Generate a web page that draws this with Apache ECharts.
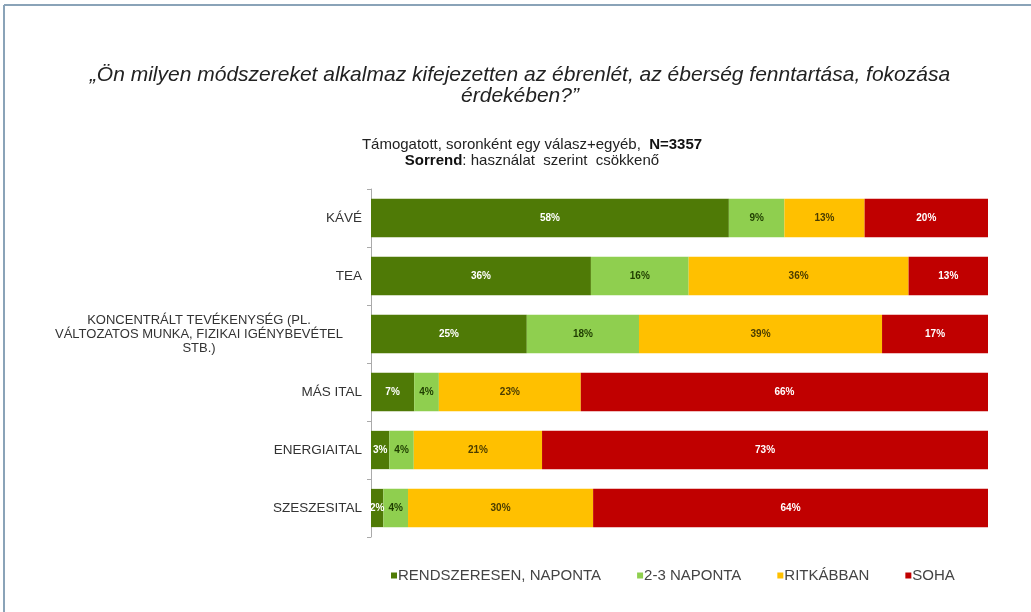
<!DOCTYPE html>
<html>
<head>
<meta charset="utf-8">
<script src="https://cdn.jsdelivr.net/npm/echarts@6/dist/echarts.min.js"></script>
<style>
  html, body { margin: 0; padding: 0; background: #fff; }
  #chart { width: 1031px; height: 612px; }
</style>
</head>
<body>
<div id="chart"></div>
<script>
// kategóriák (fentről lefelé)
const categories = [
  "KÁVÉ",
  "TEA",
  "KONCENTRÁLT TEVÉKENYSÉG (PL.\nVÁLTOZATOS MUNKA, FIZIKAI IGÉNYBEVÉTEL\nSTB.)",
  "MÁS ITAL",
  "ENERGIAITAL",
  "SZESZESITAL"
];
const seriesNames = ["RENDSZERESEN, NAPONTA", "2-3 NAPONTA", "RITKÁBBAN", "SOHA"];
const naponta = [58, 36, 25, 7, 3, 2];
const haromNaponta = [9, 16, 18, 4, 4, 4];
const ritkabban = [13, 36, 39, 23, 21, 30];
const soha = [20, 13, 17, 66, 73, 64];
const colors = ["#4f7a06", "#8fcf4f", "#ffc000", "#c00000"];
const labelColors = ["#ffffff", "#1f3d00", "#4a3c00", "#ffffff"];

const FONT = "Liberation Sans, Arial, sans-serif";
const allValues = [naponta, haromNaponta, ritkabban, soha];
// 100%-os halmozás: soronként normalizálva, a felirat az eredeti érték
const rowSums = categories.map((c, i) => allValues.reduce((s, arr) => s + arr[i], 0));

const chart = echarts.init(document.getElementById("chart"));

const series = allValues.map((arr, k) => ({
  name: seriesNames[k],
  type: "bar",
  stack: "total",
  barCategoryGap: "34%",
  itemStyle: { color: colors[k] },
  label: {
    show: true,
    position: "inside",
    color: labelColors[k],
    fontSize: 10,
    fontWeight: "bold",
    fontFamily: FONT,
    formatter: p => p.data.raw + "%"
  },
  data: arr.map((v, i) => ({ value: v / rowSums[i] * 100, raw: v }))
}));

const option = {
  animation: false,
  backgroundColor: "#ffffff",
  title: [
    {
      text: "„Ön milyen módszereket alkalmaz kifejezetten az ébrenlét, az éberség fenntartása, fokozása\nérdekében?”",
      left: 515,
      top: 60,
      textAlign: "center",
      textStyle: {
        fontFamily: FONT,
        fontStyle: "italic",
        fontWeight: "normal",
        fontSize: 21,
        lineHeight: 21,
        color: "#222"
      }
    },
    {
      text: "{n|Támogatott, soronként egy válasz+egyéb,  }{b|N=3357}\n{b|Sorrend}{n|: használat  szerint  csökkenő}",
      left: 527,
      top: 132,
      textAlign: "center",
      textStyle: {
        fontWeight: "normal",
        rich: {
          n: { fontFamily: FONT, fontSize: 15, fontWeight: "normal", color: "#222", lineHeight: 16 },
          b: { fontFamily: FONT, fontSize: 15, fontWeight: "bold", color: "#111", lineHeight: 16 }
        }
      }
    }
  ],
  legend: {
    data: seriesNames,
    left: 391,
    top: 568,
    padding: 0,
    itemWidth: 6,
    itemHeight: 6,
    itemGap: 36,
    icon: "rect",
    textStyle: {
      fontFamily: FONT,
      fontSize: 15,
      color: "#444",
      padding: [0, 0, 0, -4]
    }
  },
  grid: { left: 371, right: 43, top: 189, bottom: 75 },
  xAxis: {
    type: "value",
    min: 0,
    max: 100,
    show: false
  },
  yAxis: {
    type: "category",
    inverse: true,
    data: categories,
    axisLine: { show: true, lineStyle: { color: "#aaa", width: 1 } },
    axisTick: { show: true, length: 4, lineStyle: { color: "#aaa" } },
    axisLabel: {
      margin: 9,
      fontFamily: FONT,
      fontSize: 13.5,
      color: "#333",
      lineHeight: 14,
      formatter: v => v.indexOf("\n") >= 0
        ? v.split("\n").map(s => "{c|" + s + "}").join("\n")
        : v,
      rich: {
        c: { width: 326, align: "center", fontSize: 13, lineHeight: 14, color: "#333", fontFamily: FONT }
      }
    }
  },
  graphic: [
    { type: "line", shape: { x1: 4, y1: 5, x2: 1031, y2: 5 }, style: { stroke: "#8aa3b8", lineWidth: 2 } },
    { type: "line", shape: { x1: 4, y1: 5, x2: 4, y2: 612 }, style: { stroke: "#8aa3b8", lineWidth: 2 } }
  ],
  series: series
};

chart.setOption(option);
</script>
</body>
</html>
